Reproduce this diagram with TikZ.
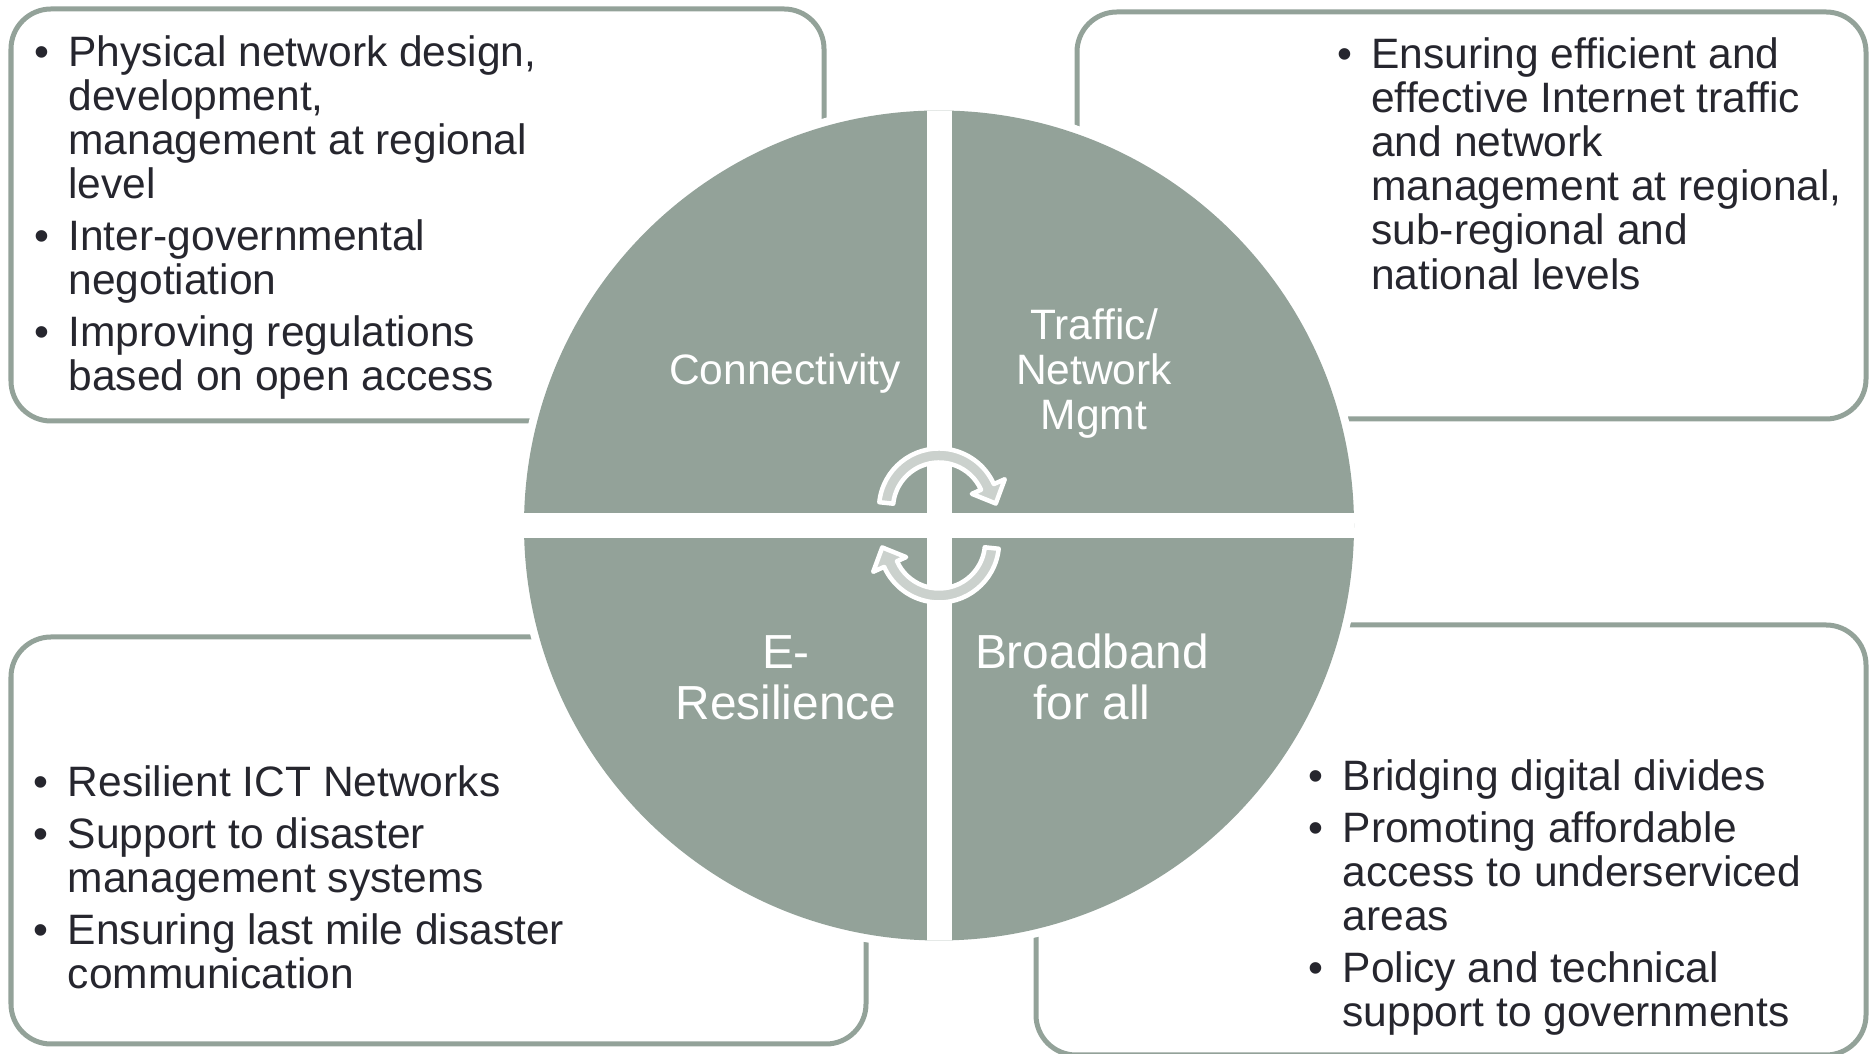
\documentclass[tikz,border=0pt]{standalone}
\usepackage{fontspec}
\setmainfont{Liberation Sans}

\definecolor{sage}{RGB}{147,162,153}
\definecolor{arrowgray}{RGB}{203,209,205}
\definecolor{ink}{RGB}{38,38,46}

\newcommand{\bul}{\makebox[0.34cm][l]{\textbullet}}
\newcommand{\ind}{\hspace*{0.34cm}}

\begin{document}
\begin{tikzpicture}[
    box/.style={draw=sage, line width=0.05cm, rounded corners=0.4cm},
    list/.style={anchor=base west, inner sep=0pt, text=ink, font=\fontsize{12.1}{12.55}\selectfont},
    quad/.style={anchor=base, inner sep=0pt, text=white, font=\fontsize{12.1}{12.8}\selectfont},
    quadbig/.style={quad, font=\fontsize{13.6}{14.3}\selectfont},
    cycarrow/.style={fill=arrowgray, draw=white, line width=0.045cm, line join=round}
]
\useasboundingbox (0,0) rectangle (18.73,10.54);
\coordinate (c) at (9.39,5.285);

% outer text boxes
\draw[box] (0.11,10.45) rectangle (8.24,6.33);
\draw[box] (10.77,10.42) rectangle (18.66,6.35);
\draw[box] (0.11,4.17) rectangle (8.66,0.10);
\draw[box] (10.36,4.29) rectangle (18.66,-0.01);

% white ring hides the box edges
\fill[white] (c) circle (4.23);

% four quadrants
\begin{scope}
  \clip (c) circle (4.15);
  \fill[sage] (5,1) rectangle (14,10);
  \fill[white] (5,5.16) rectangle (14,5.41);
  \fill[white] (9.27,1) rectangle (9.52,10);
\end{scope}

% cycle arrows
\draw[cycarrow, shift={(9.39,5.455)}] (174:0.60) arc[start angle=174, end angle=24, radius=0.60]
  -- (24:0.72) -- (5:0.57) -- (24:0.36) -- (24:0.46) arc[start angle=24, end angle=174, radius=0.46] -- cycle;
\draw[cycarrow, shift={(9.39,5.115)}, rotate=180] (174:0.60) arc[start angle=174, end angle=24, radius=0.60]
  -- (24:0.72) -- (5:0.57) -- (24:0.36) -- (24:0.46) arc[start angle=24, end angle=174, radius=0.46] -- cycle;

% quadrant labels
\node[quad] (conn) at (7.85,6.69) {Connectivity};
\node[quad] (traffic) at (10.94,7.14) {\begin{tabular}[t]{@{}c@{}}Traffic/\\Network\\Mgmt\end{tabular}};
\node[quadbig] (eres) at (7.86,3.85) {\begin{tabular}[t]{@{}c@{}}E-\\Resilience\end{tabular}};
\node[quadbig] (bband) at (10.92,3.85) {\begin{tabular}[t]{@{}c@{}}Broadband\\for all\end{tabular}};

% bullet lists
\node[list] (conntext) at (0.338,9.875) {\begin{tabular}[t]{@{}l@{}}
  \bul Physical network design,\\ \ind development,\\ \ind management at regional\\ \ind level\\[2.2pt]
  \bul Inter-governmental\\ \ind negotiation\\[2.2pt]
  \bul Improving regulations\\ \ind based on open access
\end{tabular}};
\node[list] (traffictext) at (13.366,9.855) {\begin{tabular}[t]{@{}l@{}}
  \bul Ensuring efficient and\\ \ind effective Internet traffic\\ \ind and network\\
  \ind management at regional,\\ \ind sub-regional and\\ \ind national levels
\end{tabular}};
\node[list] (erestext) at (0.332,2.577) {\begin{tabular}[t]{@{}l@{}}
  \bul Resilient ICT Networks\\[2.2pt]
  \bul Support to disaster\\ \ind management systems\\[2.2pt]
  \bul Ensuring last mile disaster\\ \ind communication
\end{tabular}};
\node[list] (bbandtext) at (13.08,2.635) {\begin{tabular}[t]{@{}l@{}}
  \bul Bridging digital divides\\[2.2pt]
  \bul Promoting affordable\\ \ind access to underserviced\\ \ind areas\\[2.2pt]
  \bul Policy and technical\\ \ind support to governments
\end{tabular}};
\end{tikzpicture}
\end{document}
